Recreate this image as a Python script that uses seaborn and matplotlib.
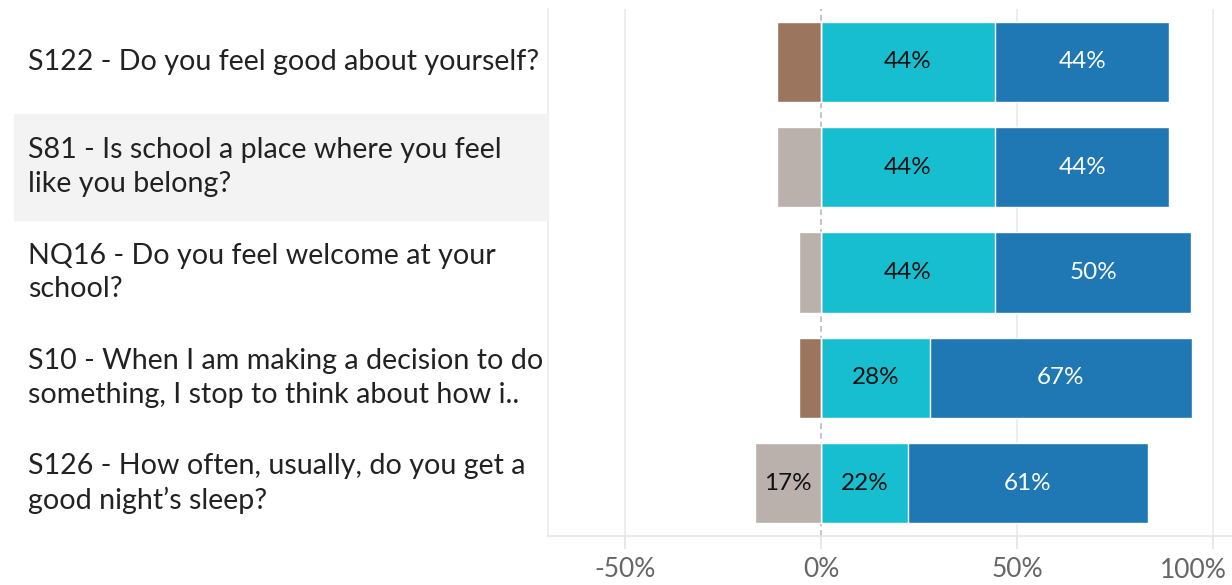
import matplotlib
matplotlib.use("Agg")
import matplotlib.pyplot as plt
import seaborn as sns
import pandas as pd
from matplotlib.patches import Rectangle

questions = [
    "S122 - Do you feel good about yourself?",
    "S81 - Is school a place where you feel\nlike you belong?",
    "NQ16 - Do you feel welcome at your\nschool?",
    "S10 - When I am making a decision to do\nsomething, I stop to think about how i..",
    "S126 - How often, usually, do you get a\ngood night\u2019s sleep?",
]
keys = ["S122", "S81", "NQ16", "S10", "S126"]
neg_brown = [11.1, 0.0, 0.0, 5.6, 0.0]
neg_gray = [0.0, 11.1, 5.6, 0.0, 16.7]
pos_cyan = [44.4, 44.4, 44.4, 27.8, 22.2]
pos_blue = [44.4, 44.4, 50.0, 66.7, 61.1]
ticks = [-50, 0, 50, 100]
tick_labels = ["-50%", "0%", "50%", "100%"]

C_BROWN = "#9c755f"
C_GRAY = "#bab0ac"
C_CYAN = "#17becf"
C_BLUE = "#1f77b4"

df = pd.DataFrame({
    "key": keys,
    "neg_brown": [-v for v in neg_brown],
    "neg_gray": [-v for v in neg_gray],
    "cyan": pos_cyan,
    "total": [a + b for a, b in zip(pos_cyan, pos_blue)],
})

sns.set_theme(style="white")
plt.rcParams["font.family"] = ["Lato", "DejaVu Sans"]

W, H = 1232, 585
fig = plt.figure(figsize=(W / 100, H / 100), dpi=100)
left_px, top_px, bot_px = 548, 9, 536
ax = fig.add_axes([left_px / W, 1 - bot_px / H, 1 - left_px / W, (bot_px - top_px) / H])
lax = fig.add_axes([0, 1 - bot_px / H, left_px / W, (bot_px - top_px) / H])

bw = 0.76
ax.axvline(0, color="#c4c4c4", lw=1.4, ls=(0, (3, 2)), zorder=0)
for t in ticks:
    if t != 0:
        ax.axvline(t, color="#ececec", lw=1.3, zorder=0)

sns.barplot(data=df, x="total", y="key", orient="h", color=C_BLUE, saturation=1, width=bw, ax=ax, zorder=2)
sns.barplot(data=df, x="cyan", y="key", orient="h", color=C_CYAN, saturation=1, width=bw, ax=ax, zorder=3)
sns.barplot(data=df, x="neg_brown", y="key", orient="h", color=C_BROWN, saturation=1, width=bw, ax=ax, zorder=3)
sns.barplot(data=df, x="neg_gray", y="key", orient="h", color=C_GRAY, saturation=1, width=bw, ax=ax, zorder=3)

lab_fs = 17.5
for i in range(len(keys)):
    if pos_cyan[i] >= 15:
        ax.text(pos_cyan[i] / 2, i, f"{pos_cyan[i]:.0f}%", ha="center", va="center",
                fontsize=lab_fs, color="#111111", zorder=5)
    if pos_blue[i] >= 15:
        ax.text(pos_cyan[i] + pos_blue[i] / 2, i, f"{pos_blue[i]:.0f}%", ha="center", va="center",
                fontsize=lab_fs, color="white", zorder=5)
    for nv in (neg_brown[i], neg_gray[i]):
        if nv >= 15:
            ax.text(-nv / 2, i, f"{nv:.0f}%", ha="center", va="center",
                    fontsize=lab_fs, color="#111111", zorder=5)

ax.set_xlim(-69.6, 104.8)
ax.set_ylim(len(keys) - 0.5, -0.5)
ax.set_xticks(ticks)
ax.set_xticklabels(tick_labels[:-1] + [""], fontsize=19, color="#666666")
# last label shifted left so it fits inside the figure, as in the reference
ax.annotate(tick_labels[-1], xy=(ticks[-1], 0), xycoords=("data", "axes fraction"),
            xytext=(-14.5, -15.5), textcoords="offset points", ha="center", va="top",
            fontsize=19, color="#666666", annotation_clip=False)
ax.set_yticks([])
ax.set_xlabel("")
ax.set_ylabel("")
ax.tick_params(axis="x", length=9, width=1.2, color="#e4e4e4", pad=6, bottom=True)
for s in ["top", "right"]:
    ax.spines[s].set_visible(False)
ax.spines["left"].set_color("#ececec")
ax.spines["bottom"].set_color("#e6e6e6")
ax.spines["left"].set_linewidth(1.2)
ax.spines["bottom"].set_linewidth(1.2)

lax.set_xlim(0, 1)
lax.set_ylim(len(keys) - 0.5, -0.5)
lax.axis("off")
lax.add_patch(Rectangle((14 / left_px, 0.5), 1 - 14 / left_px, 1.0, color="#f3f3f3", zorder=0))
for i, q in enumerate(questions):
    lax.text(28 / left_px, i, q, ha="left", va="center", fontsize=20.6, color="#222222",
             linespacing=1.37, zorder=2)

fig.savefig("out.png", dpi=100)
